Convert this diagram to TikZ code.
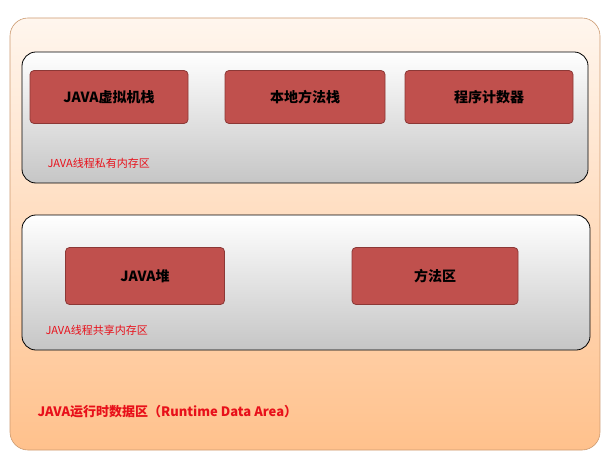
\documentclass[tikz,border=0pt]{standalone}
\usepackage{fontspec}
\setmainfont{Noto Sans CJK SC}
\definecolor{areaorange}{HTML}{FFC18C}
\definecolor{areapale}{HTML}{FFF6EE}
\definecolor{boxred}{HTML}{C0504D}
\definecolor{boxedge}{HTML}{8C3836}
\definecolor{labelred}{HTML}{E8101A}
\usetikzlibrary{positioning}
\begin{document}
\begin{tikzpicture}[x=1pt, y=-1pt,
        area/.style={draw=areaorange!80!black, rounded corners=18pt,
                     top color=areapale, bottom color=areaorange, line width=0.6pt},
        region/.style={draw=black, rounded corners=14pt, line width=0.8pt,
                       top color=white, bottom color=gray!45},
        unit/.style={draw=boxedge, fill=boxred, rounded corners=4pt,
                     line width=0.8pt, font=\bfseries\fontsize{14}{16}\selectfont},
        tag/.style={font=\fontsize{11}{13}\selectfont, text=labelred, anchor=west}
      ]
        \useasboundingbox (0,0) rectangle (609,454);
        % Runtime data area
        \draw[area] (10,18) rectangle (600,450);
        % Thread private region
        \draw[region] (22,52) rectangle (588,183);
        \node[unit] (jvm) at (109,97) [minimum width=158pt, minimum height=53pt] {JAVA虚拟机栈};
        \node[unit] (native) at (305,97) [minimum width=160pt, minimum height=53pt] {本地方法栈};
        \node[unit] (pc) at (489,97) [minimum width=168pt, minimum height=53pt] {程序计数器};
        \node[tag] (private) at (44,163) {JAVA线程私有内存区};
        % Thread shared region
        \draw[region] (22,215) rectangle (590,350);
        \node[unit] (heap) at (145,276) [minimum width=159pt, minimum height=57pt] {JAVA堆};
        \node[unit] (method) at (435,276) [minimum width=166pt, minimum height=57pt] {方法区};
        \node[tag] (shared) at (42,330) {JAVA线程共享内存区};
        % Area label
        \node[tag, font=\bfseries\fontsize{13}{15}\selectfont] (runtime) at (34,412) {JAVA运行时数据区（Runtime Data Area）};
      \end{tikzpicture}
\end{document}
